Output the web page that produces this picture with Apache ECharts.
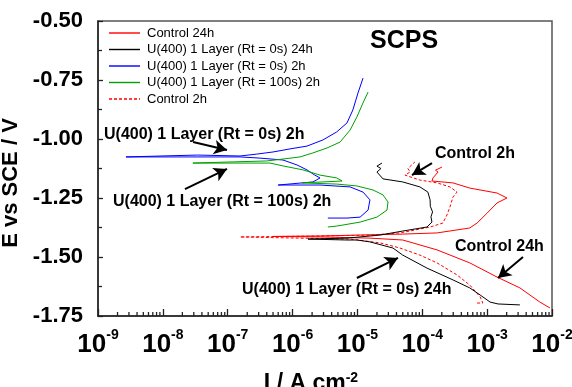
<!DOCTYPE html>
<html>
<head>
<meta charset="utf-8">
<script src="https://cdn.jsdelivr.net/npm/echarts@6/dist/echarts.min.js"></script>
<style>html,body{margin:0;padding:0;background:#fff}#c{width:572px;height:387px}</style>
</head>
<body>
<div id="c"></div>
<script>
// ---- data: [current density (A cm^-2), potential (V vs SCE)] ----
const seriesNames = [
  'Control 24h',
  'U(400) 1 Layer (Rt = 0s) 24h',
  'U(400) 1 Layer (Rt = 0s) 2h',
  'U(400) 1 Layer (Rt = 100s) 2h',
  'Control 2h'
];
const control24h = [
  [9.3e-3,-1.716],[6.5e-3,-1.691],[3.2e-3,-1.631],[1.42e-3,-1.585],[5.4e-4,-1.525],[1.69e-4,-1.470],
  [5.0e-5,-1.428],[1.56e-5,-1.420],[2.65e-6,-1.415],[5.0e-7,-1.413],[2.65e-6,-1.411],[1.1e-5,-1.407],
  [5.0e-5,-1.403],[1.69e-4,-1.398],[5.4e-4,-1.377],[7.0e-4,-1.356],[1.0e-3,-1.314],[1.42e-3,-1.271],
  [2.02e-3,-1.250],[1.42e-3,-1.229],[5.4e-4,-1.208],[2.97e-4,-1.186],[1.41e-4,-1.178],[1.46e-4,-1.165],
  [1.75e-4,-1.140],[1.6e-4,-1.132],[2.01e-4,-1.119]
];
const u0s24h = [
  [3.2e-3,-1.703],[1.47e-3,-1.699],[1.11e-3,-1.691],[7.8e-4,-1.661],[5.4e-4,-1.631],[2.97e-4,-1.597],
  [1.18e-4,-1.547],[5.0e-5,-1.492],[3.53e-5,-1.462],[1.56e-5,-1.436],[9.8e-6,-1.428],[6.9e-6,-1.428],
  [1.73e-6,-1.424],[6.9e-6,-1.420],[1.56e-5,-1.411],[2.23e-5,-1.407],[5.0e-5,-1.390],[1.18e-4,-1.373],
  [1.41e-4,-1.352],[1.36e-4,-1.330],[1.44e-4,-1.309],[1.33e-4,-1.285],[1.32e-4,-1.258],[1.22e-4,-1.225],
  [9.2e-5,-1.203],[5.0e-5,-1.182],[2.48e-5,-1.169],[2.0e-5,-1.140],[2.3e-5,-1.125],[2.0e-5,-1.115],[2.39e-5,-1.102]
];
const u0s2h = [
  [3.5e-6,-1.335],[6.9e-6,-1.335],[1.1e-5,-1.331],[1.46e-5,-1.301],[1.56e-5,-1.258],[1.22e-5,-1.225],
  [7.7e-6,-1.203],[2.65e-6,-1.195],[6.0e-7,-1.195],[2.06e-6,-1.182],[2.65e-6,-1.165],[2.2e-6,-1.153],
  [1.67e-6,-1.131],[1.17e-6,-1.110],[7.1e-7,-1.089],[3.15e-7,-1.081],[1.55e-7,-1.076],[2.7e-9,-1.076],
  [3.4e-8,-1.068],[1.55e-7,-1.072],[2.8e-7,-1.064],[5.0e-7,-1.055],[9.1e-7,-1.042],[1.67e-6,-1.030],
  [2.94e-6,-1.004],[4.8e-6,-0.970],[6.9e-6,-0.932],[8.5e-6,-0.877],[1.02e-5,-0.805],[1.22e-5,-0.742]
];
const u100s2h = [
  [3.5e-6,-1.373],[4.8e-6,-1.369],[1.1e-5,-1.352],[2.0e-5,-1.331],[2.86e-5,-1.301],[2.96e-5,-1.267],
  [2.48e-5,-1.237],[1.74e-5,-1.216],[9.8e-6,-1.199],[4.8e-6,-1.191],[1.4e-6,-1.186],[5.8e-6,-1.178],
  [4.8e-6,-1.165],[2.65e-6,-1.153],[1.45e-6,-1.131],[7.1e-7,-1.114],[4.5e-7,-1.102],[1.55e-7,-1.102],
  [2.9e-8,-1.102],[1.2e-7,-1.097],[4.0e-7,-1.093],[7.1e-7,-1.085],[1.3e-6,-1.076],[2.06e-6,-1.059],
  [3.4e-6,-1.038],[5.4e-6,-1.013],[7.7e-6,-0.962],[9.8e-6,-0.907],[1.22e-5,-0.847],[1.46e-5,-0.801]
];
const control2h = [
  [7.0e-4,-1.695],[8.6e-4,-1.695],[7.8e-4,-1.669],[5.4e-4,-1.619],[3.43e-4,-1.576],[1.69e-4,-1.525],
  [9.2e-5,-1.492],[4.53e-5,-1.462],[2.23e-5,-1.440],[7.7e-6,-1.424],[1.3e-6,-1.420],[1.55e-7,-1.415],
  [2.65e-6,-1.411],[1.56e-5,-1.407],[4.53e-5,-1.398],[1.32e-4,-1.373],[2.08e-4,-1.356],[2.40e-4,-1.322],
  [2.67e-4,-1.288],[2.97e-4,-1.246],[3.43e-4,-1.225],[2.67e-4,-1.203],[1.69e-4,-1.186],[9.2e-5,-1.174],
  [5.4e-5,-1.153],[6.5e-5,-1.140],[6.0e-5,-1.125],[7.7e-5,-1.097]
];
// axis ranges / ticks
const xMin = 1e-9, xMax = 1e-2;
const yMin = -1.75, yMax = -0.50, yStep = 0.25;
const minorTickMultipliers = [2,3,4,5,6,7,8,9];
// annotations: [text, arrowFrom [I,E], arrowTo [I,E]]
const annotations = [
  ['U(400) 1 Layer (Rt = 0s) 2h',   [2.92e-8,-1.013], [9.75e-8,-1.047]],
  ['U(400) 1 Layer (Rt = 100s) 2h', [2.19e-8,-1.212], [9.75e-8,-1.127]],
  ['Control 2h',                    [1.41e-4,-1.102], [6.94e-5,-1.153]],
  ['Control 24h',                   [3.57e-3,-1.500], [1.47e-3,-1.589]],
  ['U(400) 1 Layer (Rt = 0s) 24h',  [9.8e-6,-1.589],  [4.22e-5,-1.504]]
];
const titleText = 'SCPS';

const FONT = '"Liberation Sans", Arial, Helvetica, sans-serif';
const minorTicks = [];
for (let e = -9; e < -2; e++) for (const m of minorTickMultipliers) minorTicks.push([m * Math.pow(10, e), yMin]);

const chart = echarts.init(document.getElementById('c'), null, {renderer: 'canvas'});
const colors = ['#ff0000', '#000000', '#0000ff', '#00a000', '#ff0000'];
const datasets = [control24h, u0s24h, u0s2h, u100s2h, control2h];

const SOLID_ICON = 'path://M0,0H31V1.4H0Z';
const DASH_ICON = 'path://M0,0h3v1.4h-3zM5,0h3v1.4h-3zM10,0h3v1.4h-3zM15,0h3v1.4h-3zM20,0h3v1.4h-3zM25,0h3v1.4h-3zM30,0h1v1.4h-1z';

const lineSeries = datasets.map((d, i) => ({
  name: seriesNames[i],
  type: 'line',
  data: d,
  symbol: 'none',
  showSymbol: false,
  clip: true,
  lineStyle: {color: colors[i], width: 1, type: i === 4 ? [3, 2] : 'solid'},
  itemStyle: {color: colors[i]},
  z: i === 1 ? 4 : 3
}));

const arrowSeries = {
  type: 'line',
  data: [],
  silent: true,
  markLine: {
    silent: true,
    symbol: ['none', 'arrow'],
    symbolSize: [11, 13],
    label: {show: false},
    lineStyle: {color: '#000', width: 2, type: 'solid'},
    emphasis: {disabled: true},
    data: annotations.map(a => [{coord: a[1]}, {coord: a[2]}])
  }
};

const tickSeries = {
  type: 'custom',
  data: minorTicks,
  silent: true,
  clip: false,
  z: 5,
  renderItem: (params, api) => {
    const p = api.coord([api.value(0), api.value(1)]);
    return {type: 'line', shape: {x1: p[0], y1: p[1], x2: p[0], y2: p[1] - 4}, style: {stroke: '#222', lineWidth: 1.3}};
  }
};

const textPos = [
  [104, 135], [113, 202], [435, 154], [455, 247], [242, 290]
];

chart.setOption({
  animation: false,
  backgroundColor: '#fff',
  grid: {left: 98, right: 20, top: 21, bottom: 71, show: true, borderColor: '#555', borderWidth: 1.5,
         containLabel: false, outerBoundsMode: 'none'},
  legend: {
    data: seriesNames.map((n, i) => ({name: n, icon: i === 4 ? DASH_ICON : SOLID_ICON})),
    orient: 'vertical',
    left: 104, top: 21,
    itemWidth: 31, itemHeight: 2, itemGap: 2.5,
    textStyle: {fontFamily: FONT, fontSize: 13, color: '#000', padding: [0, 0, 0, 2], lineHeight: 14},
    selectedMode: false
  },
  xAxis: {
    type: 'log', logBase: 10, min: xMin, max: xMax,
    name: 'I / A cm{s|-2}',
    nameLocation: 'middle', nameGap: 55,
    nameTextStyle: {
      fontFamily: FONT, fontSize: 23, fontWeight: 'bold', color: '#000', padding: [0, 28, 0, 0],
      rich: {s: {fontFamily: FONT, fontSize: 14, fontWeight: 'bold', color: '#000', verticalAlign: 'top', lineHeight: 26}}
    },
    splitLine: {show: false},
    axisLine: {show: true, onZero: false, lineStyle: {color: '#222', width: 1.5}},
    axisTick: {show: true, inside: true, length: 7, lineStyle: {color: '#222', width: 1.3}},
    axisLabel: {
      margin: 12,
      formatter: v => '{b|10}{s|' + Math.round(Math.log10(v)) + '}',
      rich: {
        b: {fontFamily: FONT, fontSize: 26, fontWeight: 'bold', color: '#000', verticalAlign: 'bottom', lineHeight: 30},
        s: {fontFamily: FONT, fontSize: 14, fontWeight: 'bold', color: '#000', verticalAlign: 'top', lineHeight: 30}
      }
    }
  },
  yAxis: {
    type: 'value', min: yMin, max: yMax, interval: yStep,
    name: 'E vs SCE / V',
    nameLocation: 'middle', nameGap: 72, nameRotate: 90,
    nameTextStyle: {fontFamily: FONT, fontSize: 22, fontWeight: 'bold', color: '#000', padding: [0, 29, 0, 0]},
    splitLine: {show: false},
    axisLine: {show: true, onZero: false, lineStyle: {color: '#222', width: 1.5}},
    axisTick: {show: true, inside: true, length: 5, lineStyle: {color: '#222', width: 1.3}},
    minorTick: {show: true, splitNumber: 2, length: 4, lineStyle: {color: '#222', width: 1.3}},
    axisLabel: {margin: 15, fontFamily: FONT, fontSize: 22, fontWeight: 'bold', color: '#000', formatter: v => v.toFixed(2)}
  },
  graphic: [
    {type: 'text', left: 370, top: 29, z: 10, style: {text: titleText, font: 'bold 25px ' + FONT, fill: '#000'}}
  ].concat(annotations.map((a, i) => ({
    type: 'text', x: textPos[i][0], y: textPos[i][1], z: 10,
    style: {text: a[0], font: 'bold 16px ' + FONT, fill: '#000', verticalAlign: 'middle', align: 'left'}
  }))),
  series: lineSeries.concat([arrowSeries, tickSeries])
});
</script>
</body>
</html>
